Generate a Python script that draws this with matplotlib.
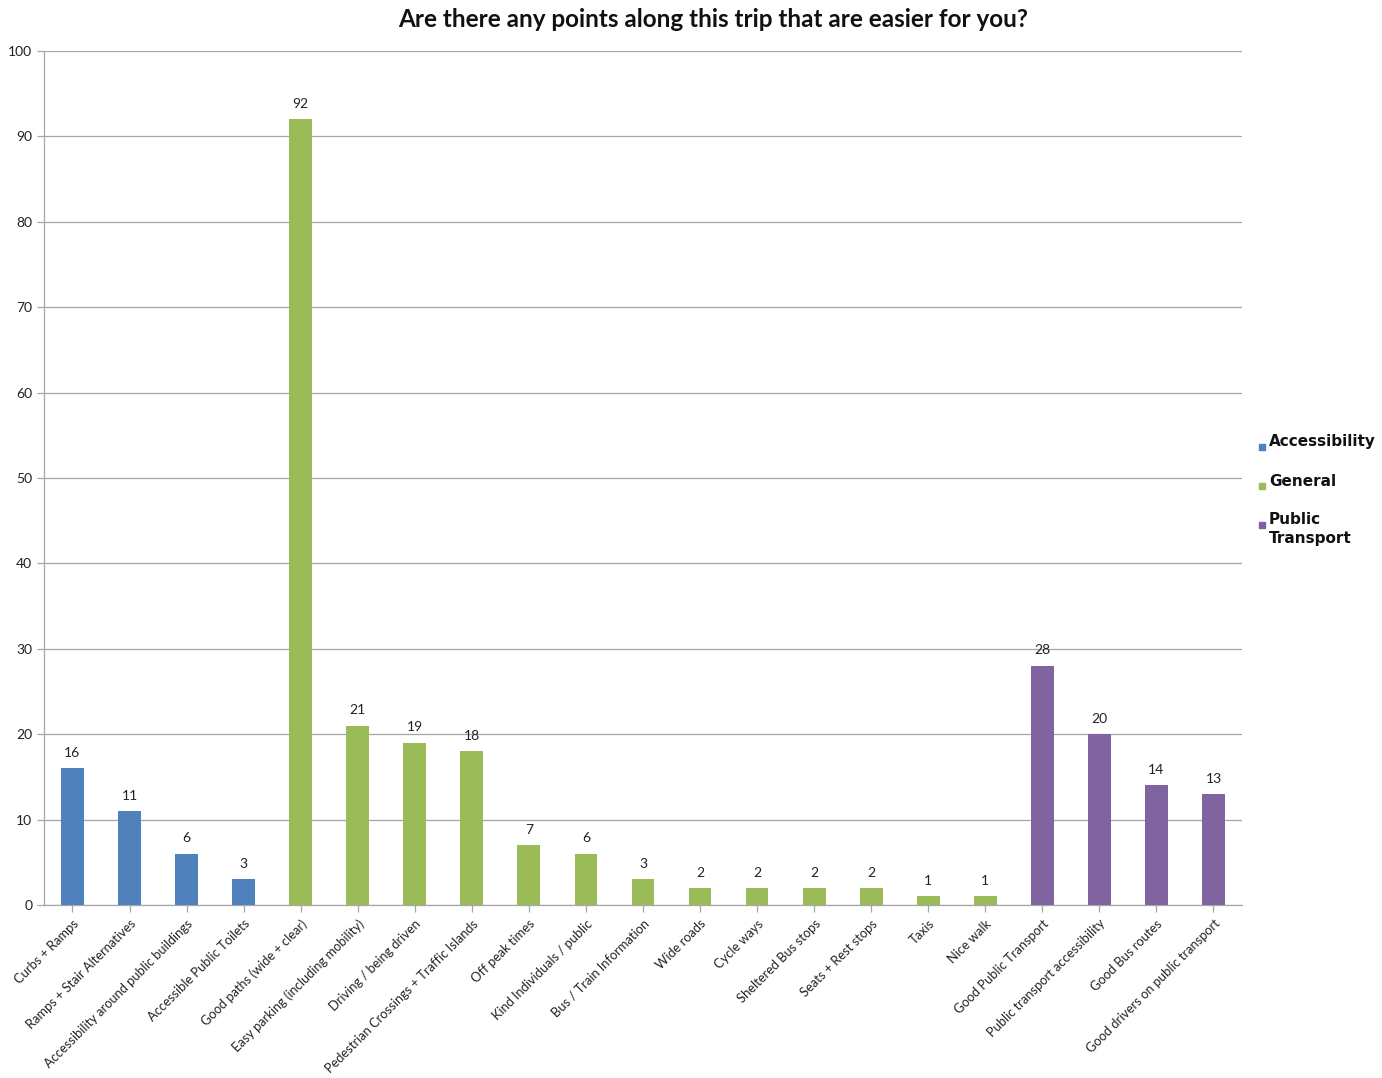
import matplotlib
matplotlib.use("Agg")
import matplotlib.pyplot as plt
from matplotlib.patches import Rectangle

categories = [
    "Curbs + Ramps", "Ramps + Stair Alternatives", "Accessibility around public buildings",
    "Accessible Public Toilets", "Good paths (wide + clear)", "Easy parking (including mobility)",
    "Driving / being driven", "Pedestrian Crossings + Traffic Islands", "Off peak times",
    "Kind Individuals / public", "Bus / Train Information", "Wide roads", "Cycle ways",
    "Sheltered Bus stops", "Seats + Rest stops", "Taxis", "Nice walk",
    "Good Public Transport", "Public transport accessibility", "Good Bus routes",
    "Good drivers on public transport",
]
values = [16, 11, 6, 3, 92, 21, 19, 18, 7, 6, 3, 2, 2, 2, 2, 1, 1, 28, 20, 14, 13]
groups = (["Accessibility"] * 4 + ["General"] * 13 + ["Public Transport"] * 4)
legend_keys = ["Accessibility", "General", "Public Transport"]
legend_lines = [["Accessibility"], ["General"], ["Public", "Transport"]]
group_colors = {"Accessibility": "#4F81BD", "General": "#9BBB59", "Public Transport": "#8064A2"}
y_ticks = list(range(0, 101, 10))

plt.rcParams["font.family"] = ["Lato", "DejaVu Sans"]

W, H = 1382, 1078
fig = plt.figure(figsize=(W / 100, H / 100), dpi=100)
ax = fig.add_axes([0.0318, 0.1605, 0.8669, 0.7922])

x = list(range(len(categories)))
colors = [group_colors[g] for g in groups]
ax.bar(x, values, width=0.4, color=colors, zorder=3)

for xi, v in zip(x, values):
    ax.text(xi, v + 1.1, str(v), ha="center", va="bottom", fontsize=10, color="#222222")

ax.set_xlim(-0.5, len(categories) - 0.5)
ax.set_ylim(0, 100)
ax.set_yticks(y_ticks)
ax.set_yticklabels([str(t) for t in y_ticks], fontsize=10, color="#222222")
ax.yaxis.grid(True, color="#A6A6A6", linewidth=0.9, zorder=0)
ax.set_axisbelow(True)
ax.set_xticks(x)
ax.set_xticklabels(categories, rotation=45, ha="right", rotation_mode="anchor",
                   fontsize=9.3, color="#222222")
ax.tick_params(axis="both", color="#A6A6A6", length=5, width=0.9)
ax.tick_params(axis="x", pad=4)

for side in ["top", "right"]:
    ax.spines[side].set_visible(False)
for side in ["left", "bottom"]:
    ax.spines[side].set_color("#A6A6A6")
    ax.spines[side].set_linewidth(0.9)

fig.text(0.516, 0.982, "Are there any points along this trip that are easier for you?",
         ha="center", va="center", fontsize=17.5, fontweight="bold", color="#111111")

# Legend built by hand: small colour squares beside bold labels
legend_px = [442, 481, 520]
line_step = 19
for key, lines, py in zip(legend_keys, legend_lines, legend_px):
    fig.patches.append(Rectangle((1259 / W, 1 - 450 / H + (442 - py) / H), 6 / W, 6 / H,
                                 transform=fig.transFigure, color=group_colors[key]))
    for i, line in enumerate(lines):
        fig.text(1269 / W, 1 - (py + i * line_step) / H, line, ha="left", va="center",
                 fontsize=11, fontweight="bold", family="DejaVu Sans", color="#111111")

fig.savefig("out.png", dpi=100)
